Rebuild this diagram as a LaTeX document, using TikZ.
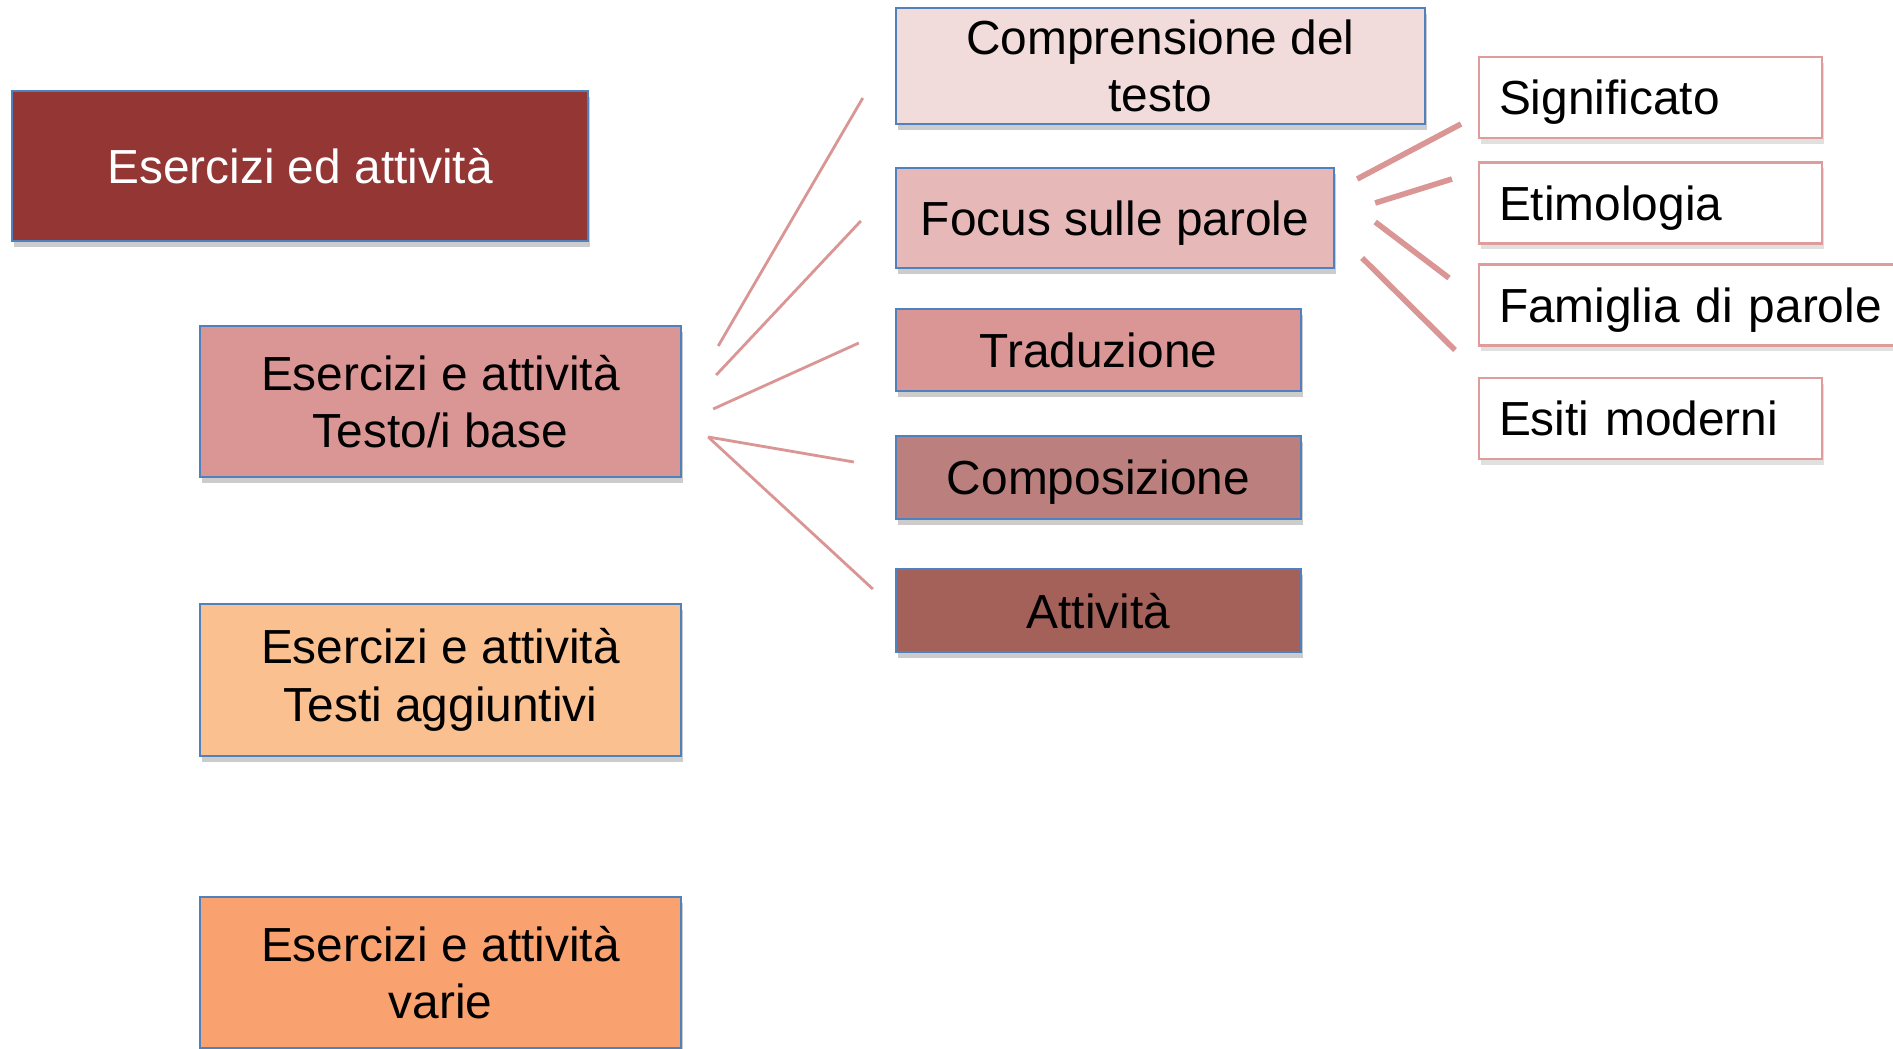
\documentclass[tikz,border=0pt]{standalone}
\usepackage{fontspec}
\setmainfont{Liberation Sans}
\usepackage{xcolor}
\usetikzlibrary{calc,shadows}

\definecolor{boxblue}{HTML}{4F81BD}
\definecolor{fanpink}{HTML}{D99694}
\definecolor{wordline}{HTML}{DE9C9B}
\definecolor{titlered}{HTML}{943634}
\definecolor{basepink}{HTML}{D99694}
\definecolor{aggorange}{HTML}{FAC090}
\definecolor{varieorange}{HTML}{F9A16F}
\definecolor{comprpink}{HTML}{F2DCDB}
\definecolor{focuspink}{HTML}{E6B9B8}
\definecolor{comprose}{HTML}{BB807D}
\definecolor{attbrown}{HTML}{A4615A}

\begin{document}
\begin{tikzpicture}[
    x=0.01cm, y=-0.01cm,
    every node/.style={font=\fontsize{13.6}{16.3}\selectfont},
    box/.style={rectangle, draw=boxblue, line width=0.6pt, align=center, inner sep=0pt,
        drop shadow={shadow xshift=0.6pt, shadow yshift=-1.6pt, opacity=0.2, fill=black}},
    oneline/.style={box, text depth=0pt},
    word/.style={rectangle, draw=wordline, line width=0.6pt, fill=white, anchor=west,
        minimum height=0.81cm, text width=3.03cm, inner xsep=0.2cm, align=left, text depth=0pt,
        drop shadow={shadow xshift=0.6pt, shadow yshift=-1.6pt, opacity=0.12, fill=black}},
    fan/.style={draw=fanpink, line width=0.8pt},
    thickfan/.style={draw=fanpink, line width=1.6pt},
]
    \useasboundingbox (0,0) rectangle (1893,1049);

    % left column
    \node[oneline, fill=titlered, text=white, minimum width=5.76cm, minimum height=1.50cm]
        (title) at (300,166) {Esercizi ed attività};
    \node[box, fill=basepink, minimum width=4.81cm, minimum height=1.51cm] (base) at (440.5,401.5)
        {Esercizi e attività\\Testo/i base};
    \node[box, fill=aggorange, minimum width=4.81cm, minimum height=1.52cm] (agg) at (440.5,680)
        {Esercizi e attività\\Testi aggiuntivi};
    \node[box, fill=varieorange, minimum width=4.81cm, minimum height=1.51cm] (varie) at (440.5,972.5)
        {Esercizi e attività\\varie};

    % middle column
    \node[box, fill=comprpink, minimum width=5.29cm, minimum height=1.16cm] (compr) at (1160.5,66)
        {Comprensione del\\testo};
    \node[oneline, fill=focuspink, minimum width=4.38cm, minimum height=1.00cm] (focus) at (1115,218)
        {Focus sulle parole};
    \node[oneline, fill=basepink, minimum width=4.05cm, minimum height=0.82cm] (trad) at (1098.5,350)
        {Traduzione};
    \node[oneline, fill=comprose, minimum width=4.05cm, minimum height=0.83cm] (comp) at (1098.5,477.5)
        {Composizione};
    \node[oneline, fill=attbrown, minimum width=4.05cm, minimum height=0.83cm] (att) at (1098.5,610.5)
        {Attività};

    % right column
    \node[word] (signif) at (1478,97.5) {Significato};
    \node[word] (etim) at (1478,203) {Etimologia};
    \node[word, text width=4.2cm] (fam) at (1478,305) {Famiglia di parole};
    \node[word] (esiti) at (1478,418.5) {Esiti moderni};

    % fan from Testo/i base
    \coordinate (hub) at ($(base.east)+(26,35.5)$);
    \draw[fan] ($(base.east)+(36,-55.5)$) -- ($(compr.west)+(-32,32)$);
    \draw[fan] ($(base.east)+(34,-26.5)$) -- ($(focus.west)+(-34,3)$);
    \draw[fan] ($(base.east)+(31,7.5)$) -- ($(trad.west)+(-36,-7)$);
    \draw[fan] (hub) -- ($(comp.west)+(-41,-15.5)$);
    \draw[fan] (hub) -- ($(att.west)+(-22,-21.5)$);

    % fan from Focus sulle parole
    \draw[thickfan] ($(focus.east)+(22,-39)$) -- ($(signif.west)+(-17,26.5)$);
    \draw[thickfan] ($(focus.east)+(40,-15)$) -- ($(etim.west)+(-26,-24)$);
    \draw[thickfan] ($(focus.east)+(40,4)$) -- ($(fam.west)+(-29,-27)$);
    \draw[thickfan] ($(focus.east)+(27,40)$) -- ($(esiti.west)+(-23,-68.5)$);
\end{tikzpicture}
\end{document}
